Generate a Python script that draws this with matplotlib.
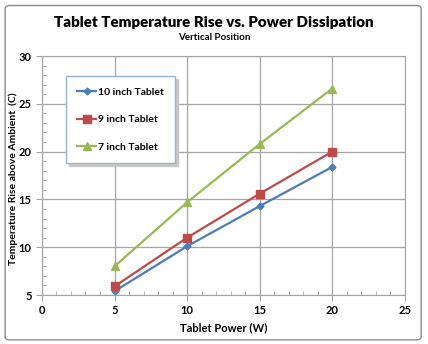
import matplotlib
matplotlib.use("Agg")
import matplotlib.pyplot as plt
from matplotlib.patches import FancyBboxPatch
from matplotlib.ticker import MultipleLocator

power = [5, 10, 15, 20]
t10 = [5.4, 10.1, 14.3, 18.4]
t9 = [5.9, 11.0, 15.6, 20.0]
t7 = [8.0, 14.7, 20.8, 26.6]
labels = ["10 inch Tablet", "9 inch Tablet", "7 inch Tablet"]
xticks = [0, 5, 10, 15, 20, 25]
yticks = [5, 10, 15, 20, 25, 30]

plt.rcParams['font.family'] = ['Lato', 'DejaVu Sans']
fig = plt.figure(figsize=(4.28, 3.44), dpi=100)
border = FancyBboxPatch((0.012, 0.012), 0.972, 0.972, boxstyle="round,pad=0,rounding_size=0.01",
                        transform=fig.transFigure, facecolor='white', edgecolor='#8c8c8c', lw=1.0, zorder=-5)
fig.patches.append(border)
ax = fig.add_axes([0.098, 0.1424, 0.848, 0.6948])
ax.set_facecolor('none')
colors = ['#4a7ebb', '#be4b48', '#98b954']
markers = ['D', 's', '^']
msizes = [3.5, 5.5, 5.5]
for ys, c, m, ms, lab in zip([t10, t9, t7], colors, markers, msizes, labels):
    ax.plot(power, ys, color=c, marker=m, markersize=ms, lw=1.6, label=lab)
ax.set_xlim(0, 25)
ax.set_ylim(5, 30)
ax.set_xticks(xticks)
ax.set_yticks(yticks)
ax.xaxis.set_minor_locator(MultipleLocator(1))
ax.yaxis.set_minor_locator(MultipleLocator(1))
ax.grid(True, which='major', color='#a6a6a6', lw=0.9)
for s in ax.spines.values():
    s.set_color('#a6a6a6')
ax.tick_params(which='major', length=4, color='#a6a6a6', labelsize=8)
ax.tick_params(which='minor', direction='in', length=3, color='#a6a6a6')
for t in ax.get_xticklabels() + ax.get_yticklabels():
    t.set_fontweight('bold')
ax.set_xlabel("Tablet Power (W)", fontsize=8, fontweight='bold', labelpad=4)
ax.set_ylabel("Temperature Rise above Ambient  (C)", fontsize=7.5, fontweight='bold')
ax.yaxis.set_label_coords(-0.066, 0.485)
fig.text(0.5, 0.936, "Tablet Temperature Rise vs. Power Dissipation", ha='center', va='center',
         fontsize=10.9, fontweight='heavy')
fig.text(0.5, 0.892, "Vertical Position", ha='center', va='center', fontsize=7, fontweight='bold')
leg = ax.legend(loc='upper left', bbox_to_anchor=(0.066, 0.916), borderaxespad=0, frameon=True,
                fancybox=False, shadow={'color': '#c8c8c8', 'alpha': 1.0}, borderpad=1.1,
                labelspacing=1.75, handlelength=1.8,
                handletextpad=0.15, prop={'weight': 'bold', 'size': 7.5})
leg.get_frame().set_edgecolor('#95b3d7')
leg.get_frame().set_linewidth(1.0)
fig.savefig("out.png", dpi=100)
